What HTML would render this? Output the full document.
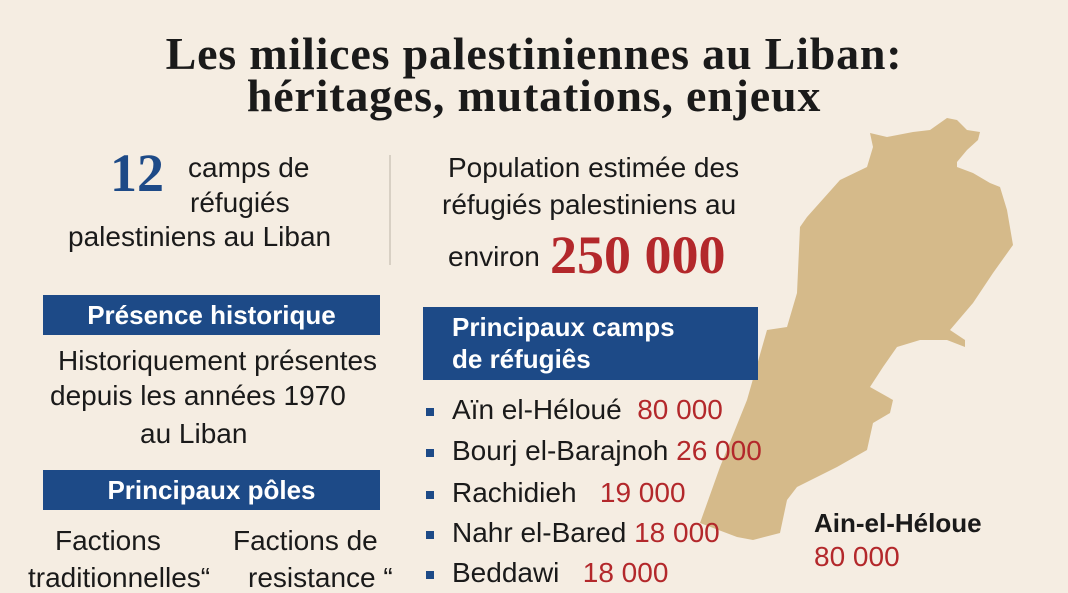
<!DOCTYPE html>
<html><head><meta charset="utf-8"><style>
body{margin:0;width:1068px;height:580px;overflow:hidden;background:#f5ede2;position:relative;font-family:"Liberation Sans",sans-serif;color:#1a1a1a}
.a{position:absolute;white-space:nowrap;line-height:1}
.t{font-family:"Liberation Serif",serif;font-weight:bold;font-size:46px;width:1068px;text-align:center;left:0;letter-spacing:0.8px}
.s{font-size:28px}
.box{position:absolute;background:#1d4a87;color:#fff;font-weight:bold;font-size:26px}
.red{color:#b3282b}
.sq{position:absolute;width:8px;height:8px;background:#1d4a87}
</style></head><body>
<svg style="position:absolute;left:0;top:0" width="1068" height="580"><polygon fill="#d5ba8a" points="947,118 957,120 967,130 980,132 978,140 967,150 957,162 957,167 973,173 990,183 1000,187 1007,210 1013,245 993,273 973,303 950,330 965,340 965,347 947,340 920,340 897,347 883,367 870,387 893,400 890,413 873,423 867,450 837,467 797,487 787,500 780,533 753,540 737,537 700,523 720,467 747,400 767,330 787,327 797,293 800,227 807,217 840,180 867,167 873,147 870,133 887,137 913,132 930,130"/><line x1="390" y1="155" x2="390" y2="265" stroke="#d8d0c4" stroke-width="2"/></svg>
<div class="a t" style="top:31px">Les milices palestiniennes au Liban:</div>
<div class="a t" style="top:73px">héritages, mutations, enjeux</div>
<div class="a" style="left:110px;top:146px;font-family:'Liberation Serif',serif;font-weight:bold;font-size:54px;color:#1d4a87">12</div>
<div class="a s" style="left:188px;top:154px">camps de</div>
<div class="a s" style="left:190px;top:189px">réfugiés</div>
<div class="a s" style="left:68px;top:223px">palestiniens au Liban</div>
<div class="a s" style="left:448px;top:154px">Population estimée des</div>
<div class="a s" style="left:442px;top:191px">réfugiés palestiniens au</div>
<div class="a s" style="left:448px;top:243px">environ</div>
<div class="a red" style="left:550px;top:228px;font-family:'Liberation Serif',serif;font-weight:bold;font-size:54px">250 000</div>
<div class="box" style="left:43px;top:295px;width:337px;height:40px;text-align:center;line-height:40px">Présence historique</div>
<div class="a s" style="left:58px;top:347px">Historiquement présentes</div>
<div class="a s" style="left:50px;top:382px">depuis les années 1970</div>
<div class="a s" style="left:140px;top:420px">au Liban</div>
<div class="box" style="left:43px;top:470px;width:337px;height:40px;text-align:center;line-height:40px">Principaux pôles</div>
<div class="a s" style="left:55px;top:527px">Factions</div>
<div class="a s" style="left:233px;top:527px">Factions de</div>
<div class="a s" style="left:28px;top:564px">traditionnelles“</div>
<div class="a s" style="left:248px;top:564px">resistance “</div>
<div class="box" style="left:423px;top:307px;width:335px;height:73px;line-height:32px;padding:4px 0 0 29px;box-sizing:border-box">Principaux camps<br>de réfugiês</div>
<div class="sq" style="left:426px;top:408px"></div><div class="a s" style="left:452px;top:396px">Aïn el-Héloué <span class="red">&nbsp;80 000</span></div>
<div class="sq" style="left:426px;top:449px"></div><div class="a s" style="left:452px;top:437px">Bourj el-Barajnoh <span class="red">26 000</span></div>
<div class="sq" style="left:426px;top:491px"></div><div class="a s" style="left:452px;top:479px">Rachidieh <span class="red">&nbsp;&nbsp;19 000</span></div>
<div class="sq" style="left:426px;top:531px"></div><div class="a s" style="left:452px;top:519px">Nahr el-Bared <span class="red">18 000</span></div>
<div class="sq" style="left:426px;top:571px"></div><div class="a s" style="left:452px;top:559px">Beddawi <span class="red">&nbsp;&nbsp;18 000</span></div>
<div class="a" style="left:814px;top:510px;font-weight:bold;font-size:26px">Ain-el-Héloue</div>
<div class="a red" style="left:814px;top:543px;font-size:28px">80 000</div>
</body></html>
